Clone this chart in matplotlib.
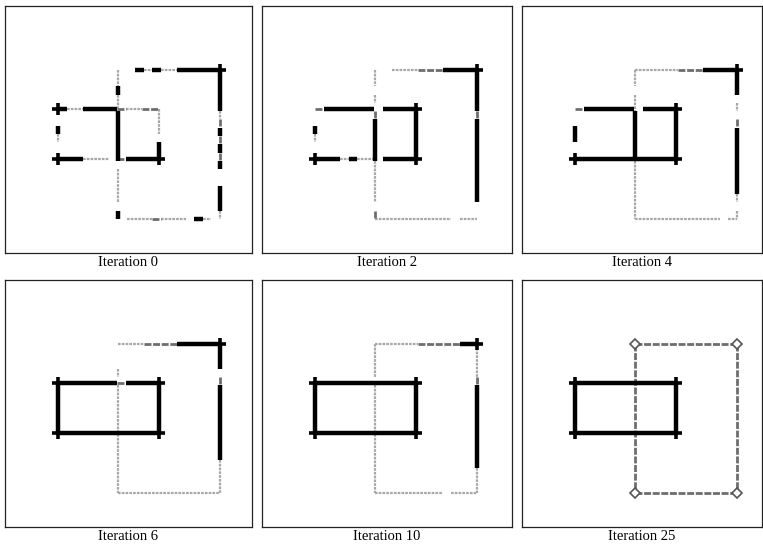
import matplotlib.pyplot as plt
import matplotlib

matplotlib.rcParams['font.family'] = ['Liberation Serif', 'DejaVu Serif']

# iterations shown
iterations = [0, 2, 4, 6, 10, 25]

# rectangle geometry (percent of panel, y measured from the top)
small_rect = [21.5, 62.5, 41.7, 62.0]   # x0, x1, y0, y1
big_rect = [45.8, 87.0, 25.8, 86.2]

# edge strength along each edge, one list per iteration
# 0 = missing, 1 = faint, 2 = medium, 3 = strong
small_top = [
    [3, 1, 1, 3, 3, 3, 3, 2, 1, 1, 2, 2],
    [2, 3, 3, 3, 3, 3, 3, 0, 3, 3, 3, 3],
    [2, 3, 3, 3, 3, 3, 3, 0, 3, 3, 3, 3],
    [3, 3, 3, 3, 3, 3, 3, 2, 3, 3, 3, 3],
    [3, 3, 3, 3, 3, 3, 3, 3, 3, 3, 3, 3],
    [3, 3, 3, 3, 3, 3, 3, 3, 3, 3, 3, 3],
]
small_bottom = [
    [3, 3, 3, 1, 1, 1, 0, 2, 3, 3, 3, 3],
    [3, 3, 3, 1, 3, 1, 1, 0, 3, 3, 3, 3],
    [3, 3, 3, 3, 3, 3, 3, 3, 3, 3, 3, 3],
    [3, 3, 3, 3, 3, 3, 3, 3, 3, 3, 3, 3],
    [3, 3, 3, 3, 3, 3, 3, 3, 3, 3, 3, 3],
    [3, 3, 3, 3, 3, 3, 3, 3, 3, 3, 3, 3],
]
small_left = [
    [0, 0, 3, 1, 0, 0],
    [0, 0, 3, 1, 0, 0],
    [0, 0, 3, 3, 0, 0],
    [3, 3, 3, 3, 3, 3],
    [3, 3, 3, 3, 3, 3],
    [3, 3, 3, 3, 3, 3],
]
small_right = [
    [1, 1, 1, 0, 3, 3],
    [3, 3, 3, 3, 3, 3],
    [3, 3, 3, 3, 3, 3],
    [3, 3, 3, 3, 3, 3],
    [3, 3, 3, 3, 3, 3],
    [3, 3, 3, 3, 3, 3],
]
big_top = [
    [0, 0, 3, 1, 3, 1, 1, 3, 3, 3, 3, 3],
    [0, 0, 1, 1, 1, 2, 2, 2, 3, 3, 3, 3],
    [1, 1, 1, 1, 1, 2, 2, 2, 3, 3, 3, 3],
    [1, 1, 1, 2, 2, 2, 2, 3, 3, 3, 3, 3],
    [1, 1, 1, 1, 1, 2, 2, 2, 2, 2, 3, 3],
    [2, 2, 2, 2, 2, 2, 2, 2, 2, 2, 2, 2],
]
big_bottom = [
    [0, 1, 1, 1, 2, 1, 1, 1, 0, 3, 1, 0],
    [1, 1, 1, 1, 1, 1, 1, 1, 1, 0, 1, 1],
    [1, 1, 1, 1, 1, 1, 1, 1, 1, 1, 0, 1],
    [1, 1, 1, 1, 1, 1, 1, 1, 1, 1, 1, 1],
    [1, 1, 1, 1, 1, 1, 1, 1, 0, 1, 1, 1],
    [2, 2, 2, 2, 2, 2, 2, 2, 2, 2, 2, 2],
]
big_left = [
    [1, 1, 3, 1, 1, 3, 3, 3, 3, 3, 3, 0, 1, 1, 1, 1, 0, 3],
    [1, 1, 0, 1, 0, 2, 3, 3, 3, 3, 3, 1, 1, 1, 1, 1, 0, 2],
    [1, 1, 0, 1, 1, 3, 3, 3, 3, 3, 3, 1, 1, 1, 1, 1, 1, 1],
    [0, 0, 0, 1, 0, 1, 1, 1, 1, 1, 1, 1, 1, 1, 1, 1, 1, 1],
    [1, 1, 1, 1, 0, 1, 1, 1, 1, 1, 1, 1, 1, 1, 1, 1, 1, 1],
    [2, 2, 2, 2, 2, 2, 2, 2, 2, 2, 2, 2, 2, 2, 2, 2, 2, 2],
]
big_right = [
    [3, 3, 3, 3, 3, 1, 2, 3, 2, 3, 2, 3, 0, 0, 3, 3, 3, 1],
    [3, 3, 3, 3, 3, 2, 3, 3, 3, 3, 3, 3, 3, 3, 3, 3, 0, 0],
    [3, 3, 3, 0, 1, 0, 2, 3, 3, 3, 3, 3, 3, 3, 3, 1, 0, 1],
    [3, 3, 3, 0, 2, 3, 3, 3, 3, 3, 3, 3, 3, 3, 1, 1, 1, 1],
    [1, 1, 1, 1, 2, 3, 3, 3, 3, 3, 3, 3, 3, 3, 3, 1, 1, 1],
    [2, 2, 2, 2, 2, 2, 2, 2, 2, 2, 2, 2, 2, 2, 2, 2, 2, 2],
]

styles = {
    1: dict(color='#a8a8a8', lw=1.6, ls=(0, (1.2, 0.5))),
    2: dict(color='#6e6e6e', lw=2.0, ls=(0, (2.5, 0.6))),
    3: dict(color='black', lw=3.2, ls='-'),
}


def draw_edge(ax, p0, p1, levels):
    n = len(levels)
    i = 0
    while i < n:
        j = i
        while j + 1 < n and levels[j + 1] == levels[i]:
            j += 1
        lv = levels[i]
        if lv > 0:
            t0, t1 = i / n, (j + 1) / n
            xs = [p0[0] + (p1[0] - p0[0]) * t0, p0[0] + (p1[0] - p0[0]) * t1]
            ys = [p0[1] + (p1[1] - p0[1]) * t0, p0[1] + (p1[1] - p0[1]) * t1]
            ax.plot(xs, ys, solid_capstyle='butt', dash_capstyle='butt',
                    zorder=lv, **styles[lv])
        i = j + 1


def draw_rect(ax, rect, top, bottom, left, right):
    x0, x1, y0, y1 = rect
    draw_edge(ax, (x0, y0), (x1, y0), top)
    draw_edge(ax, (x0, y1), (x1, y1), bottom)
    draw_edge(ax, (x0, y0), (x0, y1), left)
    draw_edge(ax, (x1, y0), (x1, y1), right)
    # corner marks: (corner, horizontal end piece, vertical end piece)
    corners = [((x0, y0), top[0], left[0]), ((x1, y0), top[-1], right[0]),
               ((x0, y1), bottom[0], left[-1]), ((x1, y1), bottom[-1], right[-1])]
    for (cx, cy), h, v in corners:
        if h >= 3:
            ax.plot(cx, cy, marker='+', ms=9, mew=2.6, color='black', zorder=5)
        elif h == 2 and v == 2:
            ax.plot(cx, cy, marker='D', ms=5, mfc='white', mec='#555555',
                    mew=1.2, zorder=5)


fig = plt.figure(figsize=(7.63, 5.5), dpi=100)

lefts = [5, 262, 522]
widths = [247, 250, 240]
tops = [6, 280]
size_px = 247

for k, it in enumerate(iterations):
    r, c = divmod(k, 3)
    ax = fig.add_axes([lefts[c] / 763, (550 - tops[r] - size_px) / 550,
                       widths[c] / 763, size_px / 550])
    ax.set_xlim(0, widths[c] / size_px * 100)
    ax.set_ylim(100, 0)
    ax.set_xticks([])
    ax.set_yticks([])
    for sp in ax.spines.values():
        sp.set_linewidth(0.9)
        sp.set_color('#222222')

    draw_rect(ax, big_rect, big_top[k], big_bottom[k], big_left[k], big_right[k])
    draw_rect(ax, small_rect, small_top[k], small_bottom[k], small_left[k], small_right[k])

    ax.text(0.5, -0.012, f'Iteration {it}', transform=ax.transAxes,
            ha='center', va='top', fontsize=10.5)

plt.savefig('out.png', dpi=100)
